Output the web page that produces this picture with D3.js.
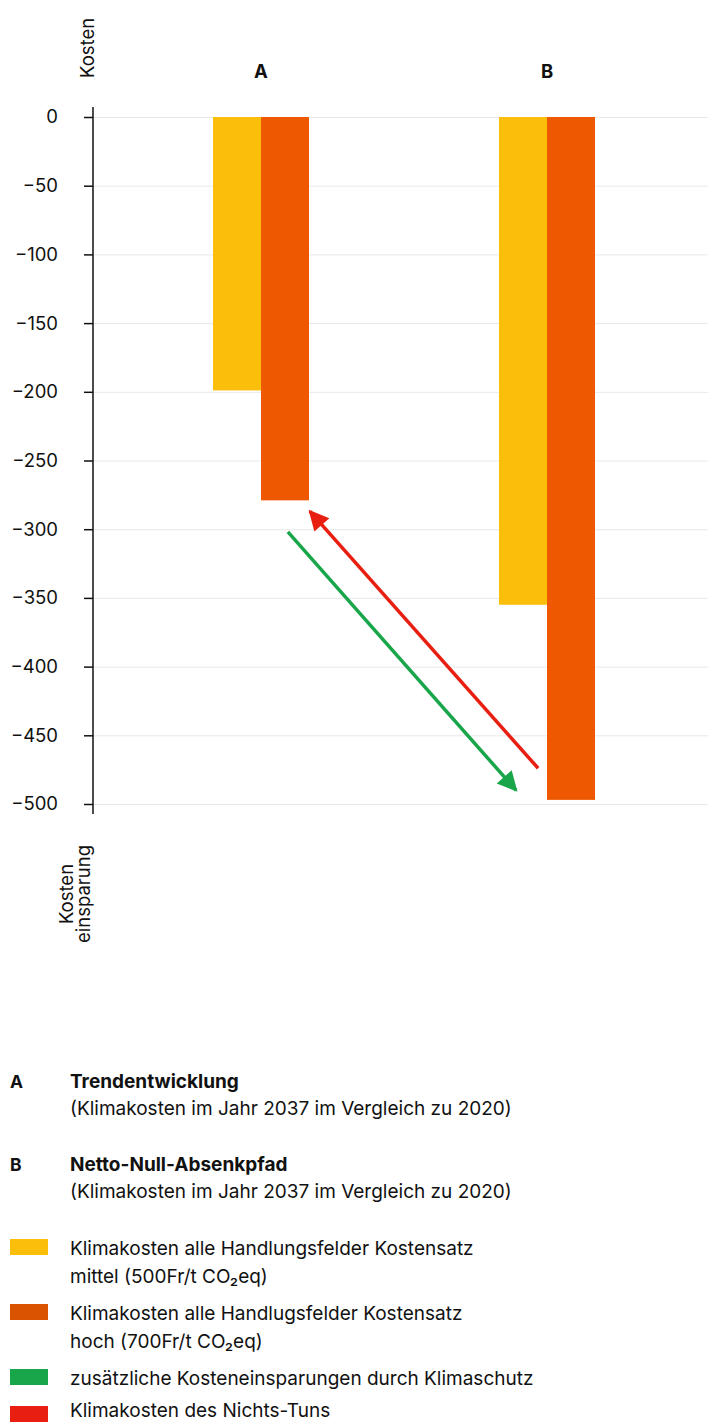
<!DOCTYPE html>
<html>
  <head>
    <meta charset="utf-8" />
    <title>Klimakosten</title>
    <style>
      body {
        margin: 0;
        background: #fff;
        font-family: Inter, "Noto Sans", sans-serif;
      }
      text {
        fill: #111;
      }
      .grid line {
        stroke: #e8e8e8;
      }
    </style>
    <script src="https://d3js.org/d3.v7.min.js" charset="utf-8"></script>
  </head>
  <body>
    <script>
      // data
      const categories = ["A", "B"];
      const seriesKeys = ["mittel", "hoch"];
      const mittelValues = [-199, -355];
      const hochValues = [-279, -497];
      const yTicks = [0, -50, -100, -150, -200, -250, -300, -350, -400, -450, -500];
      // arrows: x as position between category A (0) and B (1), y as value
      const arrows = [
        { name: "green", x1: 0.094, y1: -302, x2: 0.892, y2: -490 },
        { name: "red", x1: 0.969, y1: -474, x2: 0.171, y2: -287 },
      ];
      const groupTitles = ["Trendentwicklung", "Netto-Null-Absenkpfad"];
      const groupNotes = [
        "(Klimakosten im Jahr 2037 im Vergleich zu 2020)",
        "(Klimakosten im Jahr 2037 im Vergleich zu 2020)",
      ];
      const legendLabels = [
        ["Klimakosten alle Handlungsfelder Kostensatz", "mittel (500Fr/t CO₂eq)"],
        ["Klimakosten alle Handlugsfelder Kostensatz", "hoch (700Fr/t CO₂eq)"],
        ["zusätzliche Kosteneinsparungen durch Klimaschutz"],
        ["Klimakosten des Nichts-Tuns"],
      ];

      const barColors = { mittel: "#fbbf0b", hoch: "#ed5800" };
      const arrowColors = { green: "#19a64b", red: "#e81f10" };
      const legendColors = ["#fbbf0b", "#d95300", "#19a64b", "#e81f10"];

      const width = 708,
        height = 1423;
      const fs = 18.5,
        legendFs = 19;

      const svg = d3
        .select("body")
        .append("svg")
        .attr("width", width)
        .attr("height", height);

      const y = d3.scaleLinear().domain([0, -500]).range([117, 804]);
      const x = d3.scaleBand().domain(categories).range([118, 690]);
      const xs = d3.scaleBand().domain(seriesKeys).range([-48, 48]);
      const xPos = d3
        .scaleLinear()
        .domain([0, 1])
        .range([x("A") + x.bandwidth() / 2, x("B") + x.bandwidth() / 2]);

      // gridlines
      svg
        .append("g")
        .attr("class", "grid")
        .selectAll("line")
        .data(yTicks)
        .join("line")
        .attr("x1", 93)
        .attr("x2", width)
        .attr("y1", (d) => y(d) + 0.5)
        .attr("y2", (d) => y(d) + 0.5);

      // bars
      const rows = categories.map((c, i) => ({
        cat: c,
        mittel: mittelValues[i],
        hoch: hochValues[i],
      }));

      svg
        .append("g")
        .selectAll("g")
        .data(rows)
        .join("g")
        .attr("transform", (d) => "translate(" + (x(d.cat) + x.bandwidth() / 2) + ",0)")
        .selectAll("rect")
        .data((d) => seriesKeys.map((k) => ({ key: k, value: d[k] })))
        .join("rect")
        .attr("x", (d) => xs(d.key))
        .attr("width", xs.bandwidth())
        .attr("y", y(0))
        .attr("height", (d) => y(d.value) - y(0))
        .attr("fill", (d) => barColors[d.key]);

      // category labels
      svg
        .append("g")
        .selectAll("text")
        .data(categories)
        .join("text")
        .attr("x", (d) => x(d) + x.bandwidth() / 2)
        .attr("y", 78)
        .attr("text-anchor", "middle")
        .attr("font-size", fs)
        .attr("font-weight", 700)
        .text((d) => d);

      // y axis
      const axis = svg
        .append("g")
        .attr("transform", "translate(93,0)")
        .call(d3.axisLeft(y).tickValues(yTicks).tickSize(9).tickPadding(26));
      axis.select(".domain").remove();
      axis.selectAll(".tick line").attr("stroke", "#111").attr("stroke-width", 1.5);
      axis
        .selectAll(".tick text")
        .attr("font-family", "Inter, sans-serif")
        .attr("font-size", fs)
        .attr("fill", "#111");
      axis
        .append("line")
        .attr("y1", 107)
        .attr("y2", 814)
        .attr("stroke", "#111")
        .attr("stroke-width", 1.5);

      // axis titles
      svg
        .append("text")
        .attr("transform", "translate(94,78) rotate(-90)")
        .attr("font-size", fs)
        .text("Kosten");

      const bottomTitle = svg
        .append("text")
        .attr("transform", "translate(73,894) rotate(-90)")
        .attr("text-anchor", "middle")
        .attr("font-size", fs);
      bottomTitle.append("tspan").attr("x", 0).attr("y", 0).text("Kosten");
      bottomTitle.append("tspan").attr("x", 0).attr("y", 17).text("einsparung");

      // arrows
      const defs = svg.append("defs");
      Object.keys(arrowColors).forEach((k) => {
        defs
          .append("marker")
          .attr("id", "head-" + k)
          .attr("viewBox", "0 0 10 10")
          .attr("refX", 9)
          .attr("refY", 5)
          .attr("markerUnits", "userSpaceOnUse")
          .attr("markerWidth", 22)
          .attr("markerHeight", 20)
          .attr("orient", "auto")
          .append("path")
          .attr("d", "M0,0L10,5L0,10z")
          .attr("fill", arrowColors[k]);
      });

      svg
        .append("g")
        .selectAll("line")
        .data(arrows)
        .join("line")
        .attr("x1", (d) => xPos(d.x1))
        .attr("y1", (d) => y(d.y1))
        .attr("x2", (d) => xPos(d.x2))
        .attr("y2", (d) => y(d.y2))
        .attr("stroke", (d) => arrowColors[d.name])
        .attr("stroke-width", 3.5)
        .attr("marker-end", (d) => "url(#head-" + d.name + ")");

      // legend: groups
      const groups = svg
        .append("g")
        .selectAll("g")
        .data(categories)
        .join("g")
        .attr("transform", (d, i) => "translate(0," + (1088 + i * 83) + ")");
      groups
        .append("text")
        .attr("x", 10)
        .attr("font-size", fs - 1)
        .attr("font-weight", 700)
        .text((d) => d);
      groups
        .append("text")
        .attr("x", 70)
        .attr("font-size", legendFs)
        .attr("font-weight", 700)
        .text((d, i) => groupTitles[i]);
      groups
        .append("text")
        .attr("x", 70)
        .attr("y", 27)
        .attr("font-size", legendFs)
        .text((d, i) => groupNotes[i]);

      // legend: colours
      const legendY = [1239, 1304, 1369, 1406];
      const textOffset = [16, 16, 16, 11];
      const items = svg
        .append("g")
        .selectAll("g")
        .data(legendLabels)
        .join("g")
        .attr("transform", (d, i) => "translate(0," + legendY[i] + ")");
      items
        .append("rect")
        .attr("x", 10)
        .attr("width", 38)
        .attr("height", 16)
        .attr("fill", (d, i) => legendColors[i]);
      items.each(function (lines, j) {
        d3.select(this)
          .selectAll("text")
          .data(lines)
          .join("text")
          .attr("x", 70)
          .attr("y", (d, i) => textOffset[j] + i * 28)
          .attr("font-size", legendFs)
          .text((d) => d);
      });
    </script>
  </body>
</html>
